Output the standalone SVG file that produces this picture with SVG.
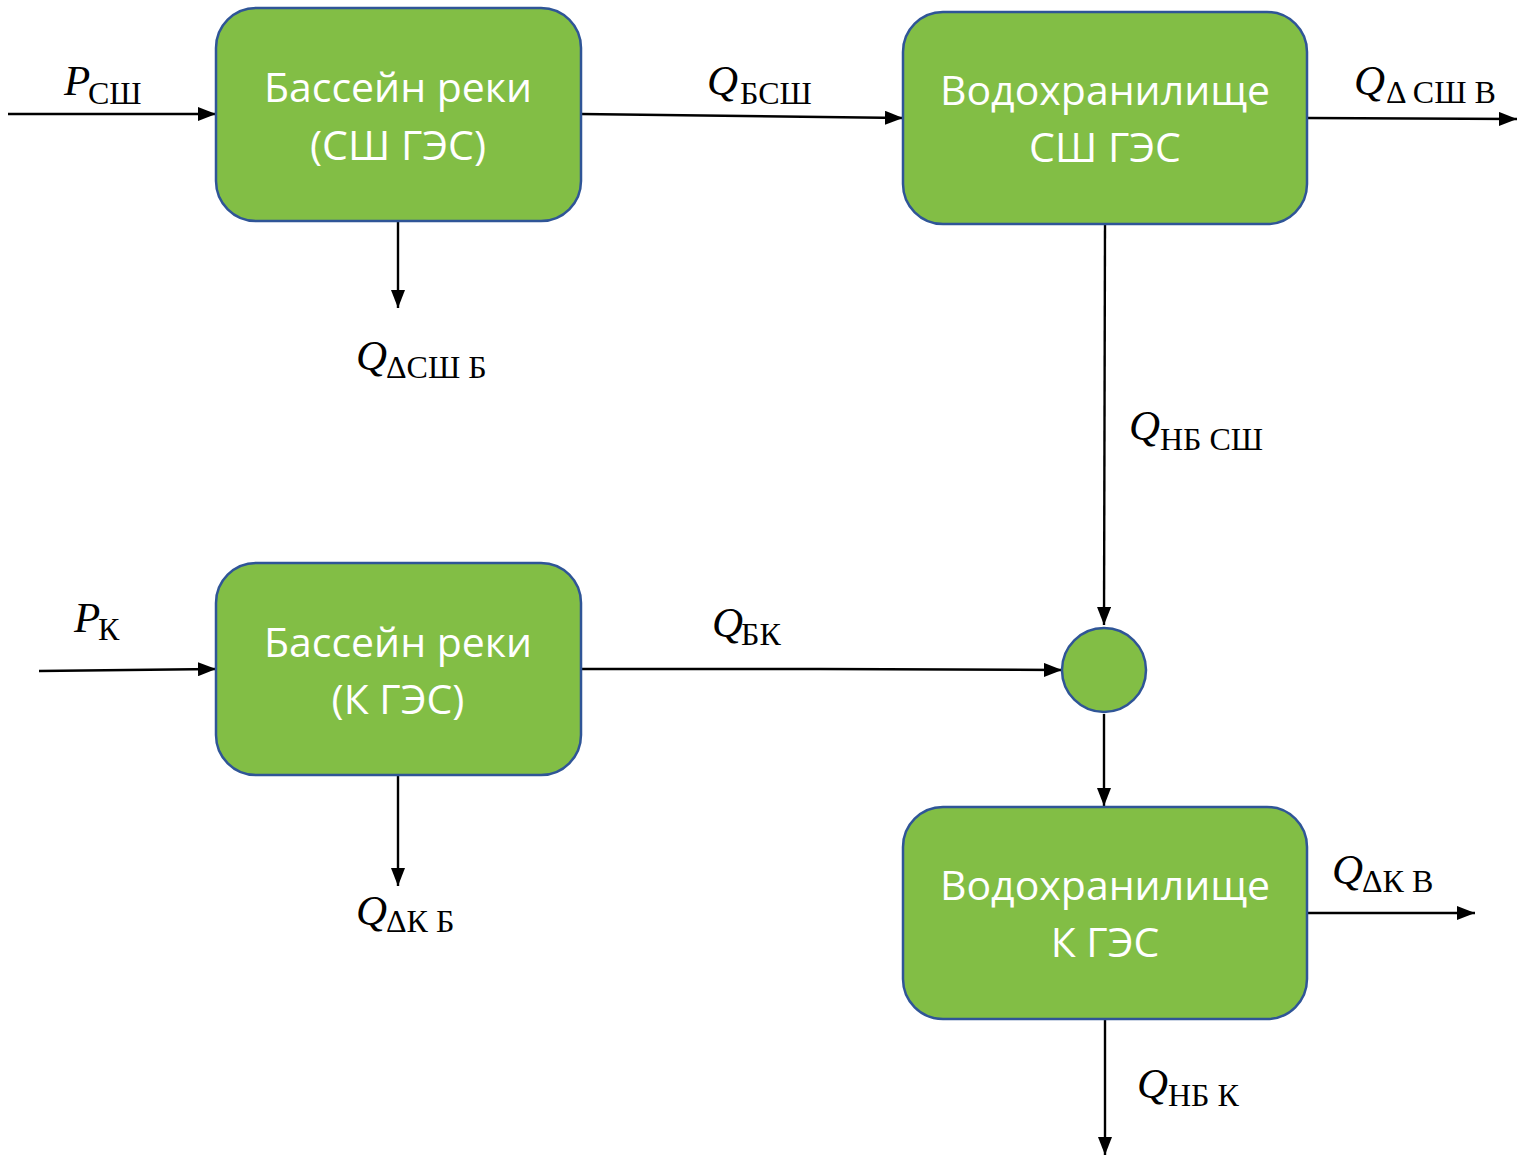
<svg xmlns="http://www.w3.org/2000/svg" width="1517" height="1155" viewBox="0 0 1517 1155">
<defs>
<marker id="ah" markerWidth="18" markerHeight="14" refX="18" refY="7" orient="auto" markerUnits="userSpaceOnUse">
<path d="M0,0 L18,7 L0,14 Z" fill="#000"/>
</marker>
<style>
.box{fill:#82BE45;stroke:#2F5597;stroke-width:2.5}
.bt{font-family:"Open Sans","Noto Sans",sans-serif;font-size:41px;fill:#fff;text-anchor:middle}
.ln{stroke:#000;stroke-width:2.4;fill:none;marker-end:url(#ah)}
.q{font-family:"Liberation Serif",serif;font-style:italic;font-size:43px;fill:#000}
.s{font-family:"Liberation Serif",serif;font-size:32px;fill:#000}
</style>
</defs>
<rect width="1517" height="1155" fill="#fff"/>
<g id="connectors">
<path class="ln" d="M8,114 L216,114"/>
<path class="ln" d="M581,114 L903,118"/>
<path class="ln" d="M1307,118 L1517,119"/>
<path class="ln" d="M398,221 L398,308"/>
<path class="ln" d="M1105,224 L1104,625"/>
<path class="ln" d="M39,671 L216,669"/>
<path class="ln" d="M581,669 L820,669 L1062,670"/>
<path class="ln" d="M1104,714 L1104,806"/>
<path class="ln" d="M398,771 L398,886"/>
<path class="ln" d="M1307,913 L1475,913"/>
<path class="ln" d="M1105,1019 L1105,1155"/>
</g>
<g id="node-bassein-sh">
<rect class="box" x="216" y="8" width="365" height="213" rx="40"/>
<text class="bt" x="398" y="102">Бассейн реки</text>
<text class="bt" x="398" y="160">(СШ ГЭС)</text>
</g>
<g id="node-vodokhr-sh">
<rect class="box" x="903" y="12" width="404" height="212" rx="40"/>
<text class="bt" x="1105" y="105">Водохранилище</text>
<text class="bt" x="1105" y="162">СШ ГЭС</text>
</g>
<g id="node-bassein-k">
<rect class="box" x="216" y="563" width="365" height="212" rx="40"/>
<text class="bt" x="398" y="657">Бассейн реки</text>
<text class="bt" x="398" y="714">(К ГЭС)</text>
</g>
<g id="node-junction">
<circle class="box" cx="1104" cy="670" r="42"/>
</g>
<g id="node-vodokhr-k">
<rect class="box" x="903" y="807" width="404" height="212" rx="40"/>
<text class="bt" x="1105" y="900">Водохранилище</text>
<text class="bt" x="1105" y="957">К ГЭС</text>
</g>
<g id="labels">
<text x="64" y="95"><tspan class="q">P</tspan><tspan class="s" x="88" y="104">СШ</tspan></text>
<text x="707" y="95"><tspan class="q">Q</tspan><tspan class="s" x="740" y="104">БСШ</tspan></text>
<text x="1354" y="95"><tspan class="q">Q</tspan><tspan class="s" x="1386" y="103">Δ СШ В</tspan></text>
<text x="356" y="370"><tspan class="q">Q</tspan><tspan class="s" x="386" y="378">ΔСШ Б</tspan></text>
<text x="1129" y="440"><tspan class="q">Q</tspan><tspan class="s" x="1160" y="450">НБ СШ</tspan></text>
<text x="74" y="632"><tspan class="q">P</tspan><tspan class="s" x="98" y="640">К</tspan></text>
<text x="712" y="637"><tspan class="q">Q</tspan><tspan class="s" x="741" y="645">БК</tspan></text>
<text x="356" y="925"><tspan class="q">Q</tspan><tspan class="s" x="386" y="932">ΔК Б</tspan></text>
<text x="1332" y="884"><tspan class="q">Q</tspan><tspan class="s" x="1362" y="892">ΔК В</tspan></text>
<text x="1137" y="1098"><tspan class="q">Q</tspan><tspan class="s" x="1168" y="1106">НБ К</tspan></text>
</g>
</svg>
